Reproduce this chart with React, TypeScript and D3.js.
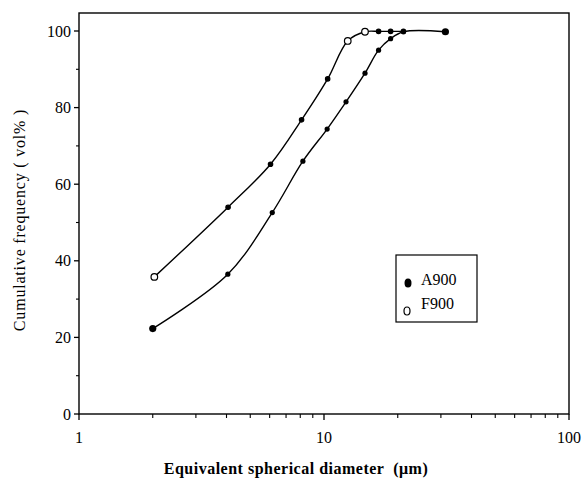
import React from "react";
import * as d3 from "d3";

const a900X = [2.0, 4.05, 6.15, 8.2, 10.3, 12.3, 14.7, 16.7, 18.7, 21.1, 31.3];
const a900Y = [22.3, 36.5, 52.6, 66.0, 74.4, 81.5, 89.0, 95.0, 98.0, 99.8, 99.8];
const f900X = [2.03, 4.06, 6.05, 8.1, 10.35, 12.5, 14.7, 16.7, 18.7, 21.1];
const f900Y = [35.8, 54.0, 65.2, 76.8, 87.5, 97.4, 99.8, 99.9, 99.9, 99.9];
const yTicks = [0, 20, 40, 60, 80, 100];
const yMinor = [10, 30, 50, 70, 90];
const xMajor = [1, 10, 100];
const xMinor = [2, 3, 4, 5, 6, 7, 8, 9, 20, 30, 40, 50, 60, 70, 80, 90];
const legendNames = ["A900", "F900"];

const W = 585, H = 480;
const L = 79, R = 569, T = 13, B = 414;

export default function App() {
  const x = d3.scaleLog().domain([1, 100]).range([L, R]);
  const y = d3.scaleLinear().domain([0, 100]).range([B, 31]);
  const line = d3
    .line<[number, number]>()
    .x((d) => x(d[0]))
    .y((d) => y(d[1]))
    .curve(d3.curveCatmullRom.alpha(0.5));
  const aPts: [number, number][] = a900X.map((v, i) => [v, a900Y[i]]);
  const fPts: [number, number][] = f900X.map((v, i) => [v, f900Y[i]]);
  const font = "'Liberation Serif', 'Times New Roman', serif";
  return (
    <svg width={W} height={H} style={{ position: "absolute", left: 0, top: 0, background: "#fff" }} fontFamily={font}>
      <rect x={L} y={T} width={R - L} height={B - T} fill="none" stroke="#000" strokeWidth={1.4} />
      {yTicks.map((t) => (
        <g key={"y" + t}>
          <line x1={L - 5} x2={L} y1={y(t)} y2={y(t)} stroke="#000" strokeWidth={1.3} />
          <text x={L - 8} y={y(t)} dy="0.35em" textAnchor="end" fontSize={16}>{t}</text>
        </g>
      ))}
      {yMinor.map((t) => (
        <line key={"ym" + t} x1={L - 3} x2={L} y1={y(t)} y2={y(t)} stroke="#000" strokeWidth={1.1} />
      ))}
      {xMajor.map((t) => (
        <g key={"x" + t}>
          <line x1={x(t)} x2={x(t)} y1={B} y2={B + 6} stroke="#000" strokeWidth={1.3} />
          <text x={x(t)} y={B + 29} textAnchor="middle" fontSize={16}>{t}</text>
        </g>
      ))}
      {xMinor.map((t) => (
        <line key={"xm" + t} x1={x(t)} x2={x(t)} y1={B} y2={B + 4} stroke="#000" strokeWidth={1.1} />
      ))}
      <path d={line(fPts) || ""} fill="none" stroke="#000" strokeWidth={1.4} />
      <path d={line(aPts) || ""} fill="none" stroke="#000" strokeWidth={1.4} />
      {aPts.map((d, i) => (
        <circle key={"a" + i} cx={x(d[0])} cy={y(d[1])} r={i === 0 || i === aPts.length - 1 ? 3.6 : 2.6} fill="#000" />
      ))}
      {fPts.map((d, i) => (
        <circle key={"f" + i} cx={x(d[0])} cy={y(d[1])} r={i === 0 || i === 5 || i === 6 ? 3.3 : 2.2} fill={i === 0 || i === 5 || i === 6 ? "#fff" : "#000"} stroke="#000" strokeWidth={1.2} />
      ))}
      <rect x={396} y={255} width={81} height={67} fill="#fff" stroke="#000" strokeWidth={1.2} />
      <ellipse cx={408} cy={283} rx={3.5} ry={4.5} fill="#000" />
      <text x={421} y={285} fontSize={16}>{legendNames[0]}</text>
      <ellipse cx={407} cy={311} rx={3} ry={4} fill="#fff" stroke="#000" strokeWidth={1.2} />
      <text x={421} y={309} fontSize={16}>{legendNames[1]}</text>
      <text transform={`translate(25,220) rotate(-90)`} textAnchor="middle" fontSize={16} letterSpacing={0.8}>
        Cumulative frequency ( vol% )
      </text>
      <text x={296} y={474} textAnchor="middle" fontSize={16} fontWeight="bold" letterSpacing={0.5} xmlSpace="preserve">
        Equivalent spherical diameter  (μm)
      </text>
    </svg>
  );
}
